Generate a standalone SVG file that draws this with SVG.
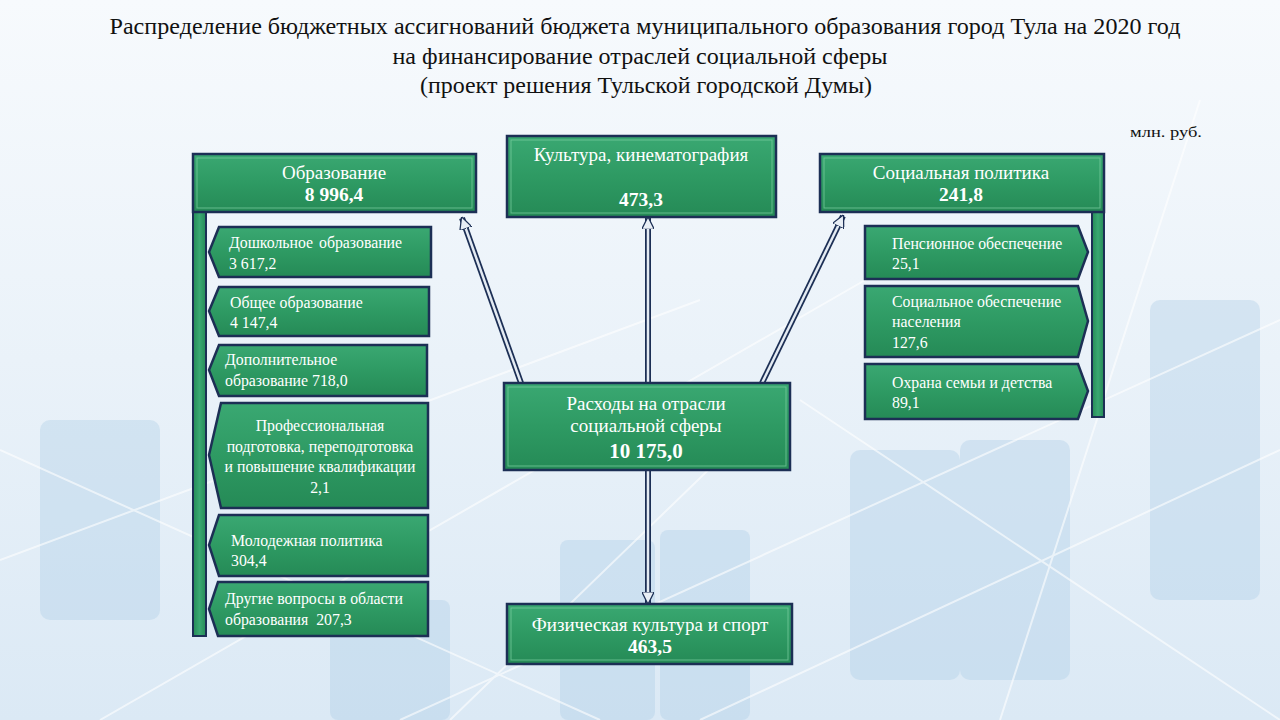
<svg xmlns="http://www.w3.org/2000/svg" width="1280" height="720" viewBox="0 0 1280 720">
<defs>
<linearGradient id="bg" x1="0" y1="0" x2="0" y2="1">
<stop offset="0" stop-color="#f7fafd"/>
<stop offset="0.5" stop-color="#eaf2f9"/>
<stop offset="1" stop-color="#dbe9f5"/>
</linearGradient>
<linearGradient id="gr" x1="0" y1="0" x2="0" y2="1">
<stop offset="0" stop-color="#3aa872"/>
<stop offset="0.5" stop-color="#2e9a63"/>
<stop offset="1" stop-color="#258a56"/>
</linearGradient>
<linearGradient id="grv" x1="0" y1="0" x2="1" y2="0">
<stop offset="0" stop-color="#258a56"/>
<stop offset="0.5" stop-color="#3aa872"/>
<stop offset="1" stop-color="#258a56"/>
</linearGradient>
<marker id="ah" viewBox="0 0 10 10" refX="9" refY="5" markerWidth="5" markerHeight="5" orient="auto" markerUnits="strokeWidth">
<path d="M0,0 L10,5 L0,10 Z" fill="#e8eef5" stroke="#1c2f55" stroke-width="1"/>
</marker>
</defs>
<style>
.box{fill:url(#gr);stroke:#1c2f55;stroke-width:2.5}
.inner{fill:none;stroke:#7fd0a4;stroke-width:1;opacity:0.7}
.bar{fill:url(#grv);stroke:#1c2f55;stroke-width:2}
.t{font-family:"Liberation Serif","Times New Roman",serif;fill:#ffffff}
.m{font-size:19px}
.b{font-size:19.5px;font-weight:bold}
.s{font-size:15.8px}
.title{font-family:"Liberation Serif","Times New Roman",serif;font-size:23px;fill:#111111}
.lnout{stroke:#1c2f55;stroke-width:6;fill:none}
.lnin{stroke:#e4ebf3;stroke-width:2.5;fill:none}
</style>
<rect x="0" y="0" width="1280" height="720" fill="url(#bg)"/>
<g opacity="0.35" fill="#a9cbe6">
<rect x="40" y="420" width="120" height="200" rx="10"/>
<rect x="560" y="540" width="95" height="180" rx="8"/>
<rect x="660" y="530" width="90" height="190" rx="8"/>
<rect x="850" y="450" width="110" height="230" rx="10"/>
<rect x="960" y="440" width="110" height="240" rx="10"/>
<rect x="1150" y="300" width="110" height="300" rx="10"/>
<rect x="330" y="600" width="120" height="120" rx="8"/>
</g>
<g stroke="#ffffff" stroke-width="2" opacity="0.6" fill="none">
<path d="M0,560 L700,300"/>
<path d="M100,720 L900,260"/>
<path d="M400,720 L1280,320"/>
<path d="M700,720 L1280,450"/>
<path d="M0,450 L600,720"/>
<path d="M800,400 L1280,720"/>
<path d="M1000,720 L1200,100"/>
<path d="M450,720 L760,420"/>
</g>
<g id="title">
<text class="title" x="645" y="34" text-anchor="middle" textLength="1071" lengthAdjust="spacingAndGlyphs">Распределение бюджетных ассигнований  бюджета муниципального образования город Тула на 2020 год</text>
<text class="title" x="640" y="64" text-anchor="middle" textLength="495" lengthAdjust="spacingAndGlyphs">на финансирование отраслей социальной сферы</text>
<text class="title" x="646" y="93" text-anchor="middle" textLength="452" lengthAdjust="spacingAndGlyphs">(проект решения Тульской городской Думы)</text>
<text x="1130" y="137" font-family="Liberation Serif, serif" font-size="15" fill="#111111" textLength="72" lengthAdjust="spacingAndGlyphs">млн. руб.</text>
</g>
<g id="connectors">
<path class="lnout" d="M521,383 L462,218"/>
<path class="lnin" d="M521,383 L462,218" marker-end="url(#ah)"/>
<path class="lnout" d="M648,383 L648,218"/>
<path class="lnin" d="M648,383 L648,218" marker-end="url(#ah)"/>
<path class="lnout" d="M762,383 L843,216"/>
<path class="lnin" d="M762,383 L843,216" marker-end="url(#ah)"/>
<path class="lnout" d="M648,470 L648,603"/>
<path class="lnin" d="M648,470 L648,603" marker-end="url(#ah)"/>
</g>
<g id="obrazovanie">
<rect class="bar" x="193" y="211" width="13" height="425"/>
<rect class="box" x="193" y="154" width="283" height="58"/>
<rect class="inner" x="197" y="158" width="275" height="50"/>
<text class="t m" x="334" y="179" text-anchor="middle">Образование</text>
<text class="t b" x="334" y="201" text-anchor="middle">8 996,4</text>
</g>
<g id="doshkolnoe">
<polygon class="box" points="219,227 431,227 431,277 219,277 209,252"/>
<text class="t s" x="229" y="248" word-spacing="2">Дошкольное образование</text>
<text class="t s" x="229" y="269">3 617,2</text>
</g>
<g id="obshchee">
<polygon class="box" points="219,287 429,287 429,336 219,336 209,311"/>
<text class="t s" x="230" y="308">Общее образование</text>
<text class="t s" x="230" y="328">4 147,4</text>
</g>
<g id="dopolnitelnoe">
<polygon class="box" points="219,345 427,345 427,396 219,396 209,370"/>
<text class="t s" x="225" y="365">Дополнительное</text>
<text class="t s" x="225" y="386">образование 718,0</text>
</g>
<g id="professionalnaya">
<polygon class="box" points="221,403 428,403 428,508 221,508 209,455"/>
<text class="t s" x="320" y="431" text-anchor="middle">Профессиональная</text>
<text class="t s" x="320" y="452" text-anchor="middle">подготовка, переподготовка</text>
<text class="t s" x="320" y="472" text-anchor="middle">и повышение квалификации</text>
<text class="t s" x="320" y="493" text-anchor="middle">2,1</text>
</g>
<g id="molodezhnaya">
<polygon class="box" points="219,515 428,515 428,576 219,576 209,545"/>
<text class="t s" x="231" y="546">Молодежная политика</text>
<text class="t s" x="231" y="566">304,4</text>
</g>
<g id="drugie">
<polygon class="box" points="218,582 428,582 428,636 218,636 209,609"/>
<text class="t s" x="225" y="604">Другие вопросы в области</text>
<text class="t s" x="225" y="625" xml:space="preserve">образования  207,3</text>
</g>
<g id="kultura">
<rect class="box" x="507" y="136" width="269" height="81"/>
<rect class="inner" x="511" y="140" width="261" height="73"/>
<text class="t m" x="641" y="161" text-anchor="middle">Культура, кинематография</text>
<text class="t b" x="641" y="206" text-anchor="middle">473,3</text>
</g>
<g id="socpolitika">
<rect class="bar" x="1092" y="211" width="12" height="206"/>
<rect class="box" x="820" y="154" width="284" height="58"/>
<rect class="inner" x="824" y="158" width="276" height="50"/>
<text class="t m" x="961" y="179" text-anchor="middle">Социальная политика</text>
<text class="t b" x="961" y="201" text-anchor="middle">241,8</text>
</g>
<g id="pensionnoe">
<polygon class="box" points="865,226 1078,226 1088,252 1078,279 865,279"/>
<text class="t s" x="892" y="249">Пенсионное обеспечение</text>
<text class="t s" x="892" y="269">25,1</text>
</g>
<g id="socobespechenie">
<polygon class="box" points="865,286 1078,286 1088,321 1078,357 865,357"/>
<text class="t s" x="892" y="307">Социальное обеспечение</text>
<text class="t s" x="892" y="327">населения</text>
<text class="t s" x="892" y="348">127,6</text>
</g>
<g id="okhrana">
<polygon class="box" points="865,364 1078,364 1088,391 1078,419 865,419"/>
<text class="t s" x="892" y="388">Охрана семьи и детства</text>
<text class="t s" x="892" y="408">89,1</text>
</g>
<g id="raskhody">
<rect class="box" x="504" y="383" width="286" height="87"/>
<rect class="inner" x="508" y="387" width="278" height="79"/>
<text class="t m" x="646" y="410" text-anchor="middle">Расходы на отрасли</text>
<text class="t m" x="646" y="432" text-anchor="middle">социальной сферы</text>
<text class="t" x="646" y="458" text-anchor="middle" font-size="21" font-weight="bold">10 175,0</text>
</g>
<g id="fizkultura">
<rect class="box" x="507" y="604" width="285" height="60"/>
<rect class="inner" x="511" y="608" width="277" height="52"/>
<text class="t m" x="650" y="631" text-anchor="middle">Физическая культура и спорт</text>
<text class="t b" x="650" y="653" text-anchor="middle">463,5</text>
</g>
</svg>
